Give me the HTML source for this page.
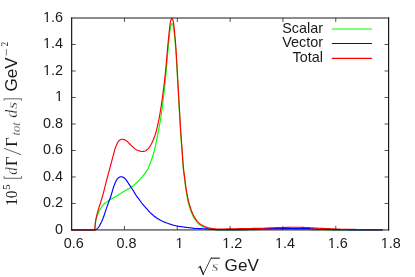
<!DOCTYPE html>
<html><head><meta charset="utf-8"><title>plot</title>
<style>
html,body{margin:0;padding:0;background:#fff;}
body{width:415px;height:277px;overflow:hidden;}
svg{display:block;opacity:0.999;will-change:transform;}
text{font-family:"Liberation Sans",sans-serif;fill:#1a1a1a;}
.m{font-family:"Liberation Serif",serif;}
.i{font-family:"Liberation Serif",serif;font-style:italic;}
</style></head><body>
<svg width="415" height="277" viewBox="0 0 415 277">
<rect x="0" y="0" width="415" height="277" fill="#ffffff"/>

<g fill="none" stroke-width="1.15" stroke-linejoin="round" stroke-linecap="butt">
<path d="M71.65,229.95 L94.80,230.00 L95.15,225.99 L95.50,222.64 L95.85,220.54 L96.20,219.03 L96.55,217.80 L96.90,216.76 L97.25,215.83 L97.60,214.90 L97.95,213.97 L98.30,213.08 L98.65,212.24 L99.00,211.45 L99.35,210.71 L99.70,210.02 L100.05,209.39 L100.40,208.80 L100.75,208.23 L101.10,207.69 L101.45,207.17 L101.80,206.68 L102.15,206.21 L102.50,205.76 L102.85,205.33 L103.20,204.93 L103.55,204.56 L103.90,204.20 L104.25,203.86 L104.60,203.54 L104.95,203.24 L105.30,202.95 L105.65,202.67 L106.00,202.40 L106.35,202.14 L106.70,201.88 L107.05,201.64 L107.40,201.40 L107.75,201.16 L108.10,200.93 L108.45,200.70 L108.80,200.47 L109.15,200.24 L109.50,200.01 L109.85,199.79 L110.20,199.58 L110.55,199.36 L110.90,199.16 L111.25,198.95 L111.60,198.75 L111.95,198.56 L112.30,198.36 L112.65,198.17 L113.00,197.97 L113.35,197.78 L113.70,197.59 L114.05,197.39 L114.40,197.20 L114.75,197.01 L115.10,196.81 L115.45,196.61 L115.80,196.41 L116.15,196.21 L116.50,196.00 L116.85,195.79 L117.20,195.58 L117.55,195.36 L117.90,195.15 L118.25,194.93 L118.60,194.72 L118.95,194.50 L119.30,194.28 L119.65,194.06 L120.00,193.84 L120.35,193.62 L120.70,193.40 L121.05,193.18 L121.40,192.96 L121.75,192.74 L122.10,192.52 L122.45,192.31 L122.80,192.09 L123.15,191.88 L123.50,191.66 L123.85,191.45 L124.20,191.24 L124.55,191.03 L124.90,190.83 L125.25,190.63 L125.60,190.44 L125.95,190.25 L126.30,190.05 L126.65,189.86 L127.00,189.67 L127.35,189.48 L127.70,189.29 L128.05,189.10 L128.40,188.91 L128.75,188.71 L129.10,188.51 L129.45,188.30 L129.80,188.10 L130.15,187.88 L130.50,187.66 L130.85,187.44 L131.20,187.21 L131.55,186.97 L131.90,186.72 L132.25,186.46 L132.60,186.19 L132.95,185.92 L133.30,185.63 L133.65,185.35 L134.00,185.05 L134.35,184.75 L134.70,184.44 L135.05,184.13 L135.40,183.82 L135.75,183.50 L136.10,183.18 L136.45,182.86 L136.80,182.54 L137.15,182.21 L137.50,181.88 L137.85,181.54 L138.20,181.20 L138.55,180.86 L138.90,180.51 L139.25,180.16 L139.60,179.80 L139.95,179.43 L140.30,179.06 L140.65,178.68 L141.00,178.30 L141.35,177.90 L141.70,177.50 L142.05,177.10 L142.40,176.68 L142.75,176.26 L143.10,175.84 L143.45,175.41 L143.80,174.98 L144.15,174.54 L144.50,174.09 L144.85,173.63 L145.20,173.16 L145.55,172.67 L145.90,172.16 L146.25,171.63 L146.60,171.08 L146.95,170.51 L147.30,169.91 L147.65,169.29 L148.00,168.62 L148.35,167.88 L148.70,167.08 L149.05,166.23 L149.40,165.34 L149.75,164.42 L150.10,163.48 L150.45,162.54 L150.80,161.60 L151.15,160.66 L151.50,159.71 L151.85,158.74 L152.20,157.75 L152.55,156.71 L152.90,155.64 L153.25,154.50 L153.60,153.31 L153.95,152.03 L154.30,150.68 L154.65,149.27 L155.00,147.81 L155.35,146.30 L155.70,144.75 L156.05,143.15 L156.40,141.47 L156.75,139.73 L157.10,137.93 L157.45,136.10 L157.80,134.25 L158.15,132.39 L158.50,130.55 L158.85,128.74 L159.20,126.93 L159.55,125.08 L159.90,123.17 L160.25,121.15 L160.60,119.00 L160.95,116.72 L161.30,114.36 L161.65,111.90 L162.00,109.35 L162.35,106.71 L162.70,103.98 L163.05,101.17 L163.40,98.27 L163.75,95.29 L164.10,92.23 L164.45,89.09 L164.80,85.87 L165.15,82.56 L165.50,78.97 L165.85,75.13 L166.20,71.11 L166.55,66.98 L166.90,62.80 L167.25,58.63 L167.60,54.55 L167.95,50.62 L168.30,46.86 L168.65,43.13 L169.00,39.52 L169.35,36.15 L169.70,32.99 L170.05,30.08 L170.40,27.83 L170.75,26.03 L171.10,24.89 L171.45,24.16 L171.80,23.68 L172.15,23.65 L172.50,24.07 L172.85,24.78 L173.20,25.80 L173.55,27.52 L173.90,29.85 L174.25,33.16 L174.60,36.70 L174.95,40.28 L175.30,44.11 L175.65,48.35 L176.00,53.19 L176.35,58.66 L176.70,64.58 L177.05,70.75 L177.40,77.00 L177.75,83.14 L178.10,89.20 L178.45,95.39 L178.80,101.64 L179.15,107.86 L179.50,113.95 L179.85,119.83 L180.20,125.60 L180.55,131.22 L180.90,136.49 L181.25,141.24 L181.60,145.62 L181.95,149.95 L182.30,154.56 L182.65,159.87 L183.00,165.29 L183.35,169.68 L183.70,172.94 L184.05,175.59 L184.40,178.22 L184.75,180.72 L185.10,183.48 L185.45,186.57 L185.80,189.03 L186.15,191.23 L186.50,193.27 L186.85,195.27 L187.20,197.24 L187.55,199.13 L187.90,200.88 L188.25,202.43 L188.60,203.75 L188.95,204.94 L189.30,206.09 L189.65,207.23 L190.00,208.34 L190.35,209.42 L190.70,210.46 L191.05,211.44 L191.40,212.36 L191.75,213.23 L192.10,214.05 L192.45,214.82 L192.80,215.54 L193.15,216.22 L193.50,216.87 L193.85,217.49 L194.20,218.09 L194.55,218.65 L194.90,219.20 L195.25,219.74 L195.60,220.26 L195.95,220.78 L196.30,221.27 L196.65,221.74 L197.00,222.18 L197.35,222.59 L197.70,222.98 L198.05,223.34 L198.40,223.68 L198.75,224.00 L199.10,224.31 L199.45,224.60 L199.80,224.88 L200.15,225.14 L200.50,225.38 L200.85,225.61 L201.20,225.83 L201.55,226.03 L201.90,226.23 L202.25,226.41 L202.60,226.59 L202.95,226.76 L203.30,226.93 L203.65,227.09 L204.00,227.24 L204.35,227.39 L204.70,227.53 L205.05,227.66 L205.40,227.78 L205.75,227.90 L206.10,228.00 L206.45,228.10 L206.80,228.19 L207.15,228.28 L207.50,228.36 L207.85,228.44 L208.20,228.53 L208.55,228.64 L208.90,228.74 L209.25,228.84 L209.60,228.93 L209.95,229.01 L210.30,229.09 L210.65,229.16 L211.00,229.23 L211.35,229.29 L211.70,229.35 L212.05,229.41 L212.40,229.47 L212.75,229.53 L213.10,229.59 L213.45,229.65 L213.80,229.70 L214.15,229.75 L214.50,229.80 L214.85,229.84 L215.20,229.87 L215.55,229.91 L215.90,229.94 L216.25,229.95 L216.60,229.95 L216.95,229.95 L217.30,229.95 L217.65,229.95 L218.00,229.95 L218.35,229.95 L218.70,229.95 L219.05,229.95 L219.40,229.95 L219.75,229.95 L220.10,229.95 L220.45,229.95 L220.80,229.95 L221.15,229.95 L221.50,229.95 L221.85,229.95 L222.20,229.95 L222.55,229.95 L222.90,229.95 L223.25,229.95 L223.60,229.95 L223.95,229.95 L224.30,229.95 L224.65,229.95 L225.00,229.95 L225.35,229.95 L225.70,229.95 L226.05,229.95 L226.40,229.95 L226.75,229.95 L227.10,229.95 L227.45,229.95 L227.80,229.95 L228.15,229.95 L228.50,229.95 L228.85,229.95 L229.20,229.95 L229.55,229.95 L229.90,229.95 L230.25,229.95 L230.60,229.95 L230.95,229.95 L231.30,229.95 L231.65,229.95 L232.00,229.95 L232.35,229.95 L232.70,229.95 L233.05,229.95 L233.40,229.95 L233.75,229.95 L234.10,229.94 L234.45,229.94 L234.80,229.94 L235.15,229.94 L235.50,229.93 L235.85,229.93 L236.20,229.93 L236.55,229.92 L236.90,229.92 L237.25,229.92 L237.60,229.91 L237.95,229.91 L238.30,229.90 L238.65,229.90 L239.00,229.89 L239.35,229.89 L239.70,229.88 L240.05,229.88 L240.40,229.87 L240.75,229.87 L241.10,229.86 L241.45,229.86 L241.80,229.85 L242.15,229.84 L242.50,229.84 L242.85,229.83 L243.20,229.83 L243.55,229.82 L243.90,229.82 L244.25,229.81 L244.60,229.81 L244.95,229.80 L245.30,229.80 L245.65,229.79 L246.00,229.78 L246.35,229.78 L246.70,229.77 L247.05,229.77 L247.40,229.76 L247.75,229.75 L248.10,229.75 L248.45,229.74 L248.80,229.73 L249.15,229.72 L249.50,229.72 L249.85,229.71 L250.20,229.70 L250.55,229.69 L250.90,229.69 L251.25,229.68 L251.60,229.67 L251.95,229.66 L252.30,229.66 L252.65,229.65 L253.00,229.64 L253.35,229.63 L253.70,229.63 L254.05,229.62 L254.40,229.61 L254.75,229.61 L255.10,229.60 L255.45,229.59 L255.80,229.58 L256.15,229.57 L256.50,229.56 L256.85,229.55 L257.20,229.55 L257.55,229.54 L257.90,229.53 L258.25,229.52 L258.60,229.51 L258.95,229.51 L259.30,229.50 L259.65,229.50 L260.00,229.50 L260.35,229.50 L260.70,229.50 L261.05,229.50 L261.40,229.50 L261.75,229.50 L262.10,229.50 L262.45,229.50 L262.80,229.50 L263.15,229.50 L263.50,229.50 L263.85,229.50 L264.20,229.50 L264.55,229.50 L264.90,229.50 L265.25,229.50 L265.60,229.50 L265.95,229.50 L266.30,229.50 L266.65,229.50 L267.00,229.50 L267.35,229.50 L267.70,229.50 L268.05,229.50 L268.40,229.50 L268.75,229.50 L269.10,229.50 L269.45,229.50 L269.80,229.50 L270.15,229.50 L270.50,229.50 L270.85,229.50 L271.20,229.50 L271.55,229.50 L271.90,229.50 L272.25,229.50 L272.60,229.50 L272.95,229.50 L273.30,229.50 L273.65,229.50 L274.00,229.50 L274.35,229.50 L274.70,229.50 L275.05,229.50 L275.40,229.50 L275.75,229.50 L276.10,229.50 L276.45,229.50 L276.80,229.50 L277.15,229.50 L277.50,229.50 L277.85,229.50 L278.20,229.50 L278.55,229.50 L278.90,229.50 L279.25,229.50 L279.60,229.50 L279.95,229.50 L280.30,229.50 L280.65,229.50 L281.00,229.50 L281.35,229.50 L281.70,229.50 L282.05,229.50 L282.40,229.50 L282.75,229.50 L283.10,229.50 L283.45,229.50 L283.80,229.50 L284.15,229.50 L284.50,229.50 L284.85,229.50 L285.20,229.50 L285.55,229.50 L285.90,229.50 L286.25,229.50 L286.60,229.50 L286.95,229.50 L287.30,229.50 L287.65,229.50 L288.00,229.50 L288.35,229.50 L288.70,229.50 L289.05,229.50 L289.40,229.50 L289.75,229.50 L290.10,229.50 L290.45,229.50 L290.80,229.50 L291.15,229.50 L291.50,229.50 L291.85,229.50 L292.20,229.50 L292.55,229.50 L292.90,229.50 L293.25,229.50 L293.60,229.50 L293.95,229.50 L294.30,229.50 L294.65,229.50 L295.00,229.50 L295.35,229.50 L295.70,229.50 L296.05,229.50 L296.40,229.50 L296.75,229.50 L297.10,229.50 L297.45,229.50 L297.80,229.50 L298.15,229.50 L298.50,229.50 L298.85,229.50 L299.20,229.50 L299.55,229.50 L299.90,229.50 L300.25,229.50 L300.60,229.50 L300.95,229.50 L301.30,229.50 L301.65,229.50 L302.00,229.50 L302.35,229.50 L302.70,229.50 L303.05,229.50 L303.40,229.50 L303.75,229.50 L304.10,229.50 L304.45,229.50 L304.80,229.50 L305.15,229.50 L305.50,229.50 L305.85,229.50 L306.20,229.50 L306.55,229.50 L306.90,229.50 L307.25,229.50 L307.60,229.50 L307.95,229.51 L308.30,229.51 L308.65,229.51 L309.00,229.52 L309.35,229.52 L309.70,229.52 L310.05,229.53 L310.40,229.53 L310.75,229.54 L311.10,229.54 L311.45,229.55 L311.80,229.55 L312.15,229.56 L312.50,229.56 L312.85,229.57 L313.20,229.57 L313.55,229.58 L313.90,229.59 L314.25,229.59 L314.60,229.60 L314.95,229.61 L315.30,229.61 L315.65,229.62 L316.00,229.63 L316.35,229.63 L316.70,229.64 L317.05,229.65 L317.40,229.65 L317.75,229.66 L318.10,229.67 L318.45,229.67 L318.80,229.68 L319.15,229.69 L319.50,229.69 L319.85,229.70 L320.20,229.70 L320.55,229.71 L320.90,229.72 L321.25,229.72 L321.60,229.73 L321.95,229.74 L322.30,229.74 L322.65,229.75 L323.00,229.76 L323.35,229.77 L323.70,229.78 L324.05,229.78 L324.40,229.79 L324.75,229.80 L325.10,229.81 L325.45,229.81 L325.80,229.82 L326.15,229.83 L326.50,229.84 L326.85,229.84 L327.20,229.85 L327.55,229.86 L327.90,229.87 L328.25,229.87 L328.60,229.88 L328.95,229.88 L329.30,229.89 L329.65,229.90 L330.00,229.90 L330.35,229.90 L330.70,229.91 L331.05,229.91 L331.40,229.92 L331.75,229.92 L332.10,229.93 L332.45,229.93 L332.80,229.94 L333.15,229.94 L333.50,229.95 L333.85,229.95 L334.20,229.96 L334.55,229.96 L334.90,229.97 L335.25,229.97 L335.60,229.97 L335.95,229.98 L336.30,229.98 L336.65,229.98 L337.00,229.99 L337.35,229.99 L337.70,229.99 L338.05,229.99 L338.40,230.00 L338.75,230.00 L339.10,230.00 L339.45,230.00 L339.80,230.00 L340.15,230.00 L340.50,230.00 L340.85,230.00 L341.20,230.00 L341.55,230.00 L341.90,230.00 L342.25,230.00 L342.60,230.00 L342.95,230.00 L343.30,230.00 L343.65,230.00 L344.00,230.00 L344.35,230.00 L344.70,230.00 L345.05,230.00 L345.40,230.00 L345.75,230.00 L346.10,230.00 L346.45,230.00 L346.80,230.00 L347.15,230.00 L347.50,230.00 L347.85,230.00 L348.20,230.00 L348.55,230.00 L348.90,230.00 L349.25,230.00 L349.60,230.00 L349.95,230.00 L350.30,230.00 L350.65,230.00 L351.00,230.00 L351.35,230.00 L351.70,230.00 L352.05,230.00 L352.40,230.00 L352.75,230.00 L353.10,230.00 L353.45,230.00 L353.80,230.00 L354.15,230.00 L354.50,230.00 L354.85,230.00 L355.20,230.00 L355.55,230.00 L355.90,230.00 L356.25,230.00 L356.60,230.00 L356.95,230.00 L357.30,230.00 L357.65,230.00 L358.00,230.00 L358.35,230.00 L358.70,230.00 L359.05,230.00 L359.40,230.00 L359.75,230.00 L360.10,230.00 L360.45,230.00 L360.80,230.00 L361.15,230.00 L361.50,230.00 L361.85,230.00 L362.20,230.00 L362.55,230.00 L362.90,230.00 L363.25,230.00 L363.60,230.00 L363.95,230.00 L364.30,230.00 L364.65,230.00 L365.00,230.00 L365.35,230.00 L365.70,230.00 L366.05,230.00 L366.40,230.00 L366.75,230.00 L367.10,230.00 L367.45,230.00 L367.80,230.00 L368.15,230.00 L368.50,230.00 L368.85,230.00 L369.20,230.00 L369.55,230.00 L369.90,230.00 L370.25,230.00 L370.60,230.00 L370.95,230.00 L371.30,230.00 L371.65,230.00 L372.00,230.00 L372.35,230.00 L372.70,230.00 L373.05,230.00 L373.40,230.00 L373.75,230.00 L374.10,230.00 L374.45,230.00 L374.80,230.00 L375.15,230.00 L375.50,230.00 L375.85,230.00 L376.20,230.00 L376.55,230.00 L376.90,230.00 L377.25,230.00 L377.60,230.00 L377.95,230.00 L378.30,230.00 L378.65,230.00 L379.00,230.00 L379.35,230.00 L379.70,230.00 L380.05,230.00 L380.40,230.00 L380.75,230.00 L381.10,230.00 L381.45,230.00 L381.80,230.00 L382.15,230.00 L382.50,230.00" stroke="#00ff00"/>
<path d="M71.65,229.95 L94.80,230.00 L95.15,229.92 L95.50,229.78 L95.85,229.61 L96.20,229.40 L96.55,229.15 L96.90,228.89 L97.25,228.60 L97.60,228.30 L97.95,227.96 L98.30,227.54 L98.65,227.06 L99.00,226.53 L99.35,225.95 L99.70,225.34 L100.05,224.70 L100.40,224.05 L100.75,223.38 L101.10,222.71 L101.45,222.00 L101.80,221.24 L102.15,220.43 L102.50,219.60 L102.85,218.73 L103.20,217.84 L103.55,216.93 L103.90,215.98 L104.25,214.97 L104.60,213.91 L104.95,212.82 L105.30,211.73 L105.65,210.64 L106.00,209.59 L106.35,208.58 L106.70,207.58 L107.05,206.60 L107.40,205.62 L107.75,204.65 L108.10,203.68 L108.45,202.72 L108.80,201.75 L109.15,200.81 L109.50,199.88 L109.85,198.94 L110.20,197.99 L110.55,197.02 L110.90,196.00 L111.25,194.91 L111.60,193.75 L111.95,192.53 L112.30,191.31 L112.65,190.09 L113.00,188.91 L113.35,187.81 L113.70,186.80 L114.05,185.85 L114.40,184.91 L114.75,184.00 L115.10,183.12 L115.45,182.29 L115.80,181.52 L116.15,180.82 L116.50,180.21 L116.85,179.68 L117.20,179.20 L117.55,178.75 L117.90,178.34 L118.25,177.99 L118.60,177.70 L118.95,177.47 L119.30,177.28 L119.65,177.09 L120.00,176.93 L120.35,176.80 L120.70,176.72 L121.05,176.70 L121.40,176.73 L121.75,176.79 L122.10,176.89 L122.45,177.01 L122.80,177.14 L123.15,177.28 L123.50,177.44 L123.85,177.65 L124.20,177.91 L124.55,178.20 L124.90,178.52 L125.25,178.85 L125.60,179.21 L125.95,179.61 L126.30,180.07 L126.65,180.56 L127.00,181.09 L127.35,181.64 L127.70,182.20 L128.05,182.76 L128.40,183.32 L128.75,183.87 L129.10,184.40 L129.45,184.91 L129.80,185.42 L130.15,185.93 L130.50,186.43 L130.85,186.94 L131.20,187.45 L131.55,187.96 L131.90,188.48 L132.25,189.00 L132.60,189.54 L132.95,190.08 L133.30,190.64 L133.65,191.22 L134.00,191.81 L134.35,192.40 L134.70,193.00 L135.05,193.60 L135.40,194.18 L135.75,194.75 L136.10,195.30 L136.45,195.82 L136.80,196.32 L137.15,196.81 L137.50,197.29 L137.85,197.76 L138.20,198.22 L138.55,198.67 L138.90,199.13 L139.25,199.59 L139.60,200.06 L139.95,200.53 L140.30,201.02 L140.65,201.52 L141.00,202.02 L141.35,202.52 L141.70,203.01 L142.05,203.46 L142.40,203.90 L142.75,204.32 L143.10,204.73 L143.45,205.13 L143.80,205.53 L144.15,205.93 L144.50,206.33 L144.85,206.73 L145.20,207.13 L145.55,207.52 L145.90,207.92 L146.25,208.31 L146.60,208.70 L146.95,209.09 L147.30,209.47 L147.65,209.85 L148.00,210.24 L148.35,210.63 L148.70,211.02 L149.05,211.40 L149.40,211.78 L149.75,212.16 L150.10,212.51 L150.45,212.86 L150.80,213.19 L151.15,213.51 L151.50,213.83 L151.85,214.14 L152.20,214.45 L152.55,214.76 L152.90,215.06 L153.25,215.36 L153.60,215.65 L153.95,215.94 L154.30,216.21 L154.65,216.49 L155.00,216.76 L155.35,217.02 L155.70,217.27 L156.05,217.52 L156.40,217.77 L156.75,218.00 L157.10,218.23 L157.45,218.45 L157.80,218.67 L158.15,218.89 L158.50,219.10 L158.85,219.31 L159.20,219.51 L159.55,219.71 L159.90,219.90 L160.25,220.09 L160.60,220.28 L160.95,220.47 L161.30,220.64 L161.65,220.82 L162.00,220.99 L162.35,221.16 L162.70,221.33 L163.05,221.49 L163.40,221.64 L163.75,221.80 L164.10,221.95 L164.45,222.10 L164.80,222.25 L165.15,222.39 L165.50,222.53 L165.85,222.67 L166.20,222.81 L166.55,222.94 L166.90,223.07 L167.25,223.20 L167.60,223.33 L167.95,223.45 L168.30,223.57 L168.65,223.69 L169.00,223.81 L169.35,223.92 L169.70,224.03 L170.05,224.14 L170.40,224.25 L170.75,224.36 L171.10,224.47 L171.45,224.58 L171.80,224.68 L172.15,224.79 L172.50,224.89 L172.85,225.00 L173.20,225.10 L173.55,225.19 L173.90,225.29 L174.25,225.38 L174.60,225.47 L174.95,225.56 L175.30,225.65 L175.65,225.73 L176.00,225.81 L176.35,225.89 L176.70,225.96 L177.05,226.03 L177.40,226.10 L177.75,226.16 L178.10,226.22 L178.45,226.28 L178.80,226.34 L179.15,226.40 L179.50,226.45 L179.85,226.50 L180.20,226.55 L180.55,226.60 L180.90,226.65 L181.25,226.70 L181.60,226.74 L181.95,226.79 L182.30,226.84 L182.65,226.88 L183.00,226.92 L183.35,226.97 L183.70,227.01 L184.05,227.05 L184.40,227.10 L184.75,227.14 L185.10,227.18 L185.45,227.23 L185.80,227.27 L186.15,227.32 L186.50,227.36 L186.85,227.41 L187.20,227.45 L187.55,227.50 L187.90,227.54 L188.25,227.58 L188.60,227.63 L188.95,227.67 L189.30,227.71 L189.65,227.76 L190.00,227.80 L190.35,227.84 L190.70,227.89 L191.05,227.94 L191.40,227.99 L191.75,228.04 L192.10,228.09 L192.45,228.15 L192.80,228.19 L193.15,228.24 L193.50,228.29 L193.85,228.33 L194.20,228.37 L194.55,228.40 L194.90,228.43 L195.25,228.45 L195.60,228.46 L195.95,228.48 L196.30,228.49 L196.65,228.50 L197.00,228.51 L197.35,228.52 L197.70,228.53 L198.05,228.54 L198.40,228.55 L198.75,228.56 L199.10,228.57 L199.45,228.58 L199.80,228.59 L200.15,228.61 L200.50,228.62 L200.85,228.63 L201.20,228.65 L201.55,228.66 L201.90,228.67 L202.25,228.69 L202.60,228.70 L202.95,228.72 L203.30,228.74 L203.65,228.75 L204.00,228.77 L204.35,228.79 L204.70,228.80 L205.05,228.82 L205.40,228.84 L205.75,228.86 L206.10,228.88 L206.45,228.90 L206.80,228.92 L207.15,228.94 L207.50,228.96 L207.85,228.99 L208.20,229.01 L208.55,229.04 L208.90,229.06 L209.25,229.09 L209.60,229.12 L209.95,229.15 L210.30,229.18 L210.65,229.21 L211.00,229.25 L211.35,229.29 L211.70,229.34 L212.05,229.37 L212.40,229.41 L212.75,229.44 L213.10,229.45 L213.45,229.47 L213.80,229.49 L214.15,229.50 L214.50,229.52 L214.85,229.53 L215.20,229.54 L215.55,229.56 L215.90,229.57 L216.25,229.58 L216.60,229.58 L216.95,229.59 L217.30,229.60 L217.65,229.60 L218.00,229.60 L218.35,229.60 L218.70,229.60 L219.05,229.60 L219.40,229.60 L219.75,229.60 L220.10,229.60 L220.45,229.60 L220.80,229.60 L221.15,229.60 L221.50,229.60 L221.85,229.60 L222.20,229.60 L222.55,229.60 L222.90,229.60 L223.25,229.60 L223.60,229.60 L223.95,229.60 L224.30,229.60 L224.65,229.60 L225.00,229.60 L225.35,229.60 L225.70,229.60 L226.05,229.60 L226.40,229.60 L226.75,229.60 L227.10,229.60 L227.45,229.60 L227.80,229.60 L228.15,229.60 L228.50,229.60 L228.85,229.60 L229.20,229.60 L229.55,229.60 L229.90,229.60 L230.25,229.60 L230.60,229.60 L230.95,229.60 L231.30,229.60 L231.65,229.60 L232.00,229.60 L232.35,229.60 L232.70,229.60 L233.05,229.60 L233.40,229.60 L233.75,229.60 L234.10,229.60 L234.45,229.60 L234.80,229.60 L235.15,229.60 L235.50,229.60 L235.85,229.60 L236.20,229.60 L236.55,229.60 L236.90,229.60 L237.25,229.60 L237.60,229.60 L237.95,229.60 L238.30,229.60 L238.65,229.60 L239.00,229.60 L239.35,229.60 L239.70,229.60 L240.05,229.60 L240.40,229.60 L240.75,229.60 L241.10,229.60 L241.45,229.60 L241.80,229.60 L242.15,229.60 L242.50,229.60 L242.85,229.60 L243.20,229.60 L243.55,229.60 L243.90,229.60 L244.25,229.60 L244.60,229.60 L244.95,229.60 L245.30,229.60 L245.65,229.60 L246.00,229.59 L246.35,229.59 L246.70,229.58 L247.05,229.58 L247.40,229.57 L247.75,229.56 L248.10,229.55 L248.45,229.54 L248.80,229.53 L249.15,229.51 L249.50,229.50 L249.85,229.49 L250.20,229.47 L250.55,229.46 L250.90,229.44 L251.25,229.43 L251.60,229.42 L251.95,229.40 L252.30,229.39 L252.65,229.37 L253.00,229.35 L253.35,229.33 L253.70,229.31 L254.05,229.28 L254.40,229.26 L254.75,229.23 L255.10,229.20 L255.45,229.18 L255.80,229.15 L256.15,229.13 L256.50,229.10 L256.85,229.07 L257.20,229.05 L257.55,229.03 L257.90,229.01 L258.25,228.99 L258.60,228.97 L258.95,228.94 L259.30,228.92 L259.65,228.90 L260.00,228.88 L260.35,228.86 L260.70,228.84 L261.05,228.83 L261.40,228.81 L261.75,228.79 L262.10,228.77 L262.45,228.76 L262.80,228.74 L263.15,228.73 L263.50,228.72 L263.85,228.70 L264.20,228.69 L264.55,228.69 L264.90,228.68 L265.25,228.67 L265.60,228.66 L265.95,228.65 L266.30,228.64 L266.65,228.64 L267.00,228.63 L267.35,228.62 L267.70,228.62 L268.05,228.61 L268.40,228.60 L268.75,228.60 L269.10,228.59 L269.45,228.59 L269.80,228.58 L270.15,228.57 L270.50,228.57 L270.85,228.56 L271.20,228.56 L271.55,228.56 L271.90,228.55 L272.25,228.55 L272.60,228.54 L272.95,228.54 L273.30,228.53 L273.65,228.53 L274.00,228.53 L274.35,228.52 L274.70,228.52 L275.05,228.52 L275.40,228.51 L275.75,228.51 L276.10,228.51 L276.45,228.51 L276.80,228.50 L277.15,228.50 L277.50,228.50 L277.85,228.49 L278.20,228.49 L278.55,228.49 L278.90,228.49 L279.25,228.48 L279.60,228.48 L279.95,228.48 L280.30,228.47 L280.65,228.47 L281.00,228.47 L281.35,228.47 L281.70,228.46 L282.05,228.46 L282.40,228.46 L282.75,228.45 L283.10,228.45 L283.45,228.45 L283.80,228.44 L284.15,228.44 L284.50,228.43 L284.85,228.43 L285.20,228.42 L285.55,228.42 L285.90,228.41 L286.25,228.41 L286.60,228.40 L286.95,228.40 L287.30,228.39 L287.65,228.39 L288.00,228.38 L288.35,228.38 L288.70,228.37 L289.05,228.37 L289.40,228.36 L289.75,228.35 L290.10,228.35 L290.45,228.34 L290.80,228.34 L291.15,228.34 L291.50,228.33 L291.85,228.33 L292.20,228.32 L292.55,228.32 L292.90,228.32 L293.25,228.31 L293.60,228.31 L293.95,228.31 L294.30,228.31 L294.65,228.30 L295.00,228.30 L295.35,228.30 L295.70,228.30 L296.05,228.30 L296.40,228.30 L296.75,228.30 L297.10,228.30 L297.45,228.31 L297.80,228.31 L298.15,228.31 L298.50,228.32 L298.85,228.32 L299.20,228.33 L299.55,228.34 L299.90,228.34 L300.25,228.35 L300.60,228.36 L300.95,228.36 L301.30,228.37 L301.65,228.38 L302.00,228.39 L302.35,228.40 L302.70,228.41 L303.05,228.42 L303.40,228.43 L303.75,228.44 L304.10,228.45 L304.45,228.46 L304.80,228.47 L305.15,228.48 L305.50,228.49 L305.85,228.50 L306.20,228.51 L306.55,228.52 L306.90,228.53 L307.25,228.54 L307.60,228.55 L307.95,228.57 L308.30,228.58 L308.65,228.60 L309.00,228.62 L309.35,228.63 L309.70,228.65 L310.05,228.67 L310.40,228.69 L310.75,228.71 L311.10,228.72 L311.45,228.74 L311.80,228.76 L312.15,228.78 L312.50,228.80 L312.85,228.83 L313.20,228.85 L313.55,228.87 L313.90,228.89 L314.25,228.91 L314.60,228.93 L314.95,228.95 L315.30,228.97 L315.65,228.99 L316.00,229.01 L316.35,229.03 L316.70,229.05 L317.05,229.07 L317.40,229.08 L317.75,229.10 L318.10,229.12 L318.45,229.14 L318.80,229.15 L319.15,229.17 L319.50,229.18 L319.85,229.19 L320.20,229.21 L320.55,229.22 L320.90,229.23 L321.25,229.25 L321.60,229.26 L321.95,229.27 L322.30,229.28 L322.65,229.29 L323.00,229.30 L323.35,229.32 L323.70,229.33 L324.05,229.34 L324.40,229.35 L324.75,229.36 L325.10,229.37 L325.45,229.38 L325.80,229.39 L326.15,229.40 L326.50,229.41 L326.85,229.42 L327.20,229.43 L327.55,229.44 L327.90,229.45 L328.25,229.46 L328.60,229.47 L328.95,229.47 L329.30,229.48 L329.65,229.49 L330.00,229.50 L330.35,229.51 L330.70,229.52 L331.05,229.52 L331.40,229.53 L331.75,229.54 L332.10,229.55 L332.45,229.56 L332.80,229.57 L333.15,229.57 L333.50,229.58 L333.85,229.59 L334.20,229.60 L334.55,229.60 L334.90,229.61 L335.25,229.62 L335.60,229.62 L335.95,229.63 L336.30,229.64 L336.65,229.65 L337.00,229.65 L337.35,229.66 L337.70,229.66 L338.05,229.67 L338.40,229.68 L338.75,229.68 L339.10,229.69 L339.45,229.69 L339.80,229.70 L340.15,229.70 L340.50,229.71 L340.85,229.71 L341.20,229.72 L341.55,229.72 L341.90,229.73 L342.25,229.73 L342.60,229.73 L342.95,229.74 L343.30,229.74 L343.65,229.75 L344.00,229.75 L344.35,229.76 L344.70,229.76 L345.05,229.76 L345.40,229.77 L345.75,229.77 L346.10,229.78 L346.45,229.78 L346.80,229.79 L347.15,229.79 L347.50,229.79 L347.85,229.80 L348.20,229.80 L348.55,229.80 L348.90,229.81 L349.25,229.81 L349.60,229.82 L349.95,229.82 L350.30,229.82 L350.65,229.83 L351.00,229.83 L351.35,229.83 L351.70,229.84 L352.05,229.84 L352.40,229.84 L352.75,229.85 L353.10,229.85 L353.45,229.85 L353.80,229.85 L354.15,229.86 L354.50,229.86 L354.85,229.86 L355.20,229.87 L355.55,229.87 L355.90,229.87 L356.25,229.87 L356.60,229.88 L356.95,229.88 L357.30,229.88 L357.65,229.88 L358.00,229.89 L358.35,229.89 L358.70,229.89 L359.05,229.89 L359.40,229.90 L359.75,229.90 L360.10,229.90 L360.45,229.90 L360.80,229.90 L361.15,229.91 L361.50,229.91 L361.85,229.91 L362.20,229.91 L362.55,229.92 L362.90,229.92 L363.25,229.92 L363.60,229.92 L363.95,229.92 L364.30,229.93 L364.65,229.93 L365.00,229.93 L365.35,229.93 L365.70,229.93 L366.05,229.94 L366.40,229.94 L366.75,229.94 L367.10,229.94 L367.45,229.94 L367.80,229.95 L368.15,229.95 L368.50,229.95 L368.85,229.95 L369.20,229.95 L369.55,229.95 L369.90,229.96 L370.25,229.96 L370.60,229.96 L370.95,229.96 L371.30,229.96 L371.65,229.97 L372.00,229.97 L372.35,229.97 L372.70,229.97 L373.05,229.97 L373.40,229.97 L373.75,229.97 L374.10,229.98 L374.45,229.98 L374.80,229.98 L375.15,229.98 L375.50,229.98 L375.85,229.98 L376.20,229.98 L376.55,229.99 L376.90,229.99 L377.25,229.99 L377.60,229.99 L377.95,229.99 L378.30,229.99 L378.65,229.99 L379.00,229.99 L379.35,229.99 L379.70,229.99 L380.05,230.00 L380.40,230.00 L380.75,230.00 L381.10,230.00 L381.45,230.00 L381.80,230.00 L382.15,230.00 L382.50,230.00" stroke="#0000ff"/>
<path d="M71.65,229.95 L94.80,229.95 L95.15,224.68 L95.50,221.60 L95.85,219.47 L96.20,217.79 L96.55,216.33 L96.90,214.90 L97.25,213.46 L97.60,212.12 L97.95,210.86 L98.30,209.66 L98.65,208.49 L99.00,207.36 L99.35,206.29 L99.70,205.26 L100.05,204.25 L100.40,203.22 L100.75,202.14 L101.10,201.03 L101.45,199.90 L101.80,198.75 L102.15,197.57 L102.50,196.35 L102.85,195.10 L103.20,193.80 L103.55,192.46 L103.90,191.10 L104.25,189.71 L104.60,188.30 L104.95,186.88 L105.30,185.46 L105.65,184.04 L106.00,182.63 L106.35,181.23 L106.70,179.86 L107.05,178.51 L107.40,177.19 L107.75,175.87 L108.10,174.57 L108.45,173.28 L108.80,171.99 L109.15,170.71 L109.50,169.42 L109.85,168.14 L110.20,166.85 L110.55,165.56 L110.90,164.25 L111.25,162.94 L111.60,161.62 L111.95,160.30 L112.30,158.98 L112.65,157.68 L113.00,156.39 L113.35,155.12 L113.70,153.82 L114.05,152.48 L114.40,151.15 L114.75,149.85 L115.10,148.64 L115.45,147.54 L115.80,146.60 L116.15,145.76 L116.50,144.96 L116.85,144.20 L117.20,143.49 L117.55,142.83 L117.90,142.23 L118.25,141.70 L118.60,141.23 L118.95,140.85 L119.30,140.50 L119.65,140.18 L120.00,139.91 L120.35,139.68 L120.70,139.53 L121.05,139.44 L121.40,139.36 L121.75,139.29 L122.10,139.24 L122.45,139.21 L122.80,139.20 L123.15,139.25 L123.50,139.34 L123.85,139.47 L124.20,139.63 L124.55,139.79 L124.90,139.95 L125.25,140.12 L125.60,140.33 L125.95,140.56 L126.30,140.80 L126.65,141.06 L127.00,141.32 L127.35,141.60 L127.70,141.90 L128.05,142.22 L128.40,142.55 L128.75,142.91 L129.10,143.27 L129.45,143.63 L129.80,144.00 L130.15,144.37 L130.50,144.73 L130.85,145.09 L131.20,145.43 L131.55,145.76 L131.90,146.07 L132.25,146.39 L132.60,146.72 L132.95,147.05 L133.30,147.38 L133.65,147.70 L134.00,148.02 L134.35,148.33 L134.70,148.62 L135.05,148.90 L135.40,149.17 L135.75,149.41 L136.10,149.63 L136.45,149.83 L136.80,149.99 L137.15,150.15 L137.50,150.30 L137.85,150.44 L138.20,150.56 L138.55,150.68 L138.90,150.79 L139.25,150.90 L139.60,151.00 L139.95,151.09 L140.30,151.18 L140.65,151.27 L141.00,151.36 L141.35,151.44 L141.70,151.49 L142.05,151.50 L142.40,151.49 L142.75,151.47 L143.10,151.43 L143.45,151.38 L143.80,151.33 L144.15,151.27 L144.50,151.20 L144.85,151.11 L145.20,150.96 L145.55,150.78 L145.90,150.57 L146.25,150.33 L146.60,150.07 L146.95,149.80 L147.30,149.52 L147.65,149.21 L148.00,148.85 L148.35,148.46 L148.70,148.04 L149.05,147.58 L149.40,147.11 L149.75,146.62 L150.10,146.10 L150.45,145.55 L150.80,144.95 L151.15,144.32 L151.50,143.65 L151.85,142.94 L152.20,142.21 L152.55,141.46 L152.90,140.67 L153.25,139.86 L153.60,139.01 L153.95,138.13 L154.30,137.22 L154.65,136.28 L155.00,135.30 L155.35,134.24 L155.70,133.13 L156.05,131.94 L156.40,130.69 L156.75,129.35 L157.10,127.91 L157.45,126.38 L157.80,124.77 L158.15,123.09 L158.50,121.36 L158.85,119.59 L159.20,117.79 L159.55,115.94 L159.90,114.02 L160.25,112.02 L160.60,109.91 L160.95,107.69 L161.30,105.38 L161.65,103.00 L162.00,100.54 L162.35,98.07 L162.70,95.50 L163.05,92.85 L163.40,90.11 L163.75,87.29 L164.10,84.38 L164.45,81.39 L164.80,78.32 L165.15,75.15 L165.50,71.70 L165.85,68.00 L166.20,64.12 L166.55,60.12 L166.90,56.07 L167.25,52.03 L167.60,48.08 L167.95,44.27 L168.30,40.63 L168.65,37.02 L169.00,33.52 L169.35,30.27 L169.70,27.23 L170.05,24.42 L170.40,22.28 L170.75,20.59 L171.10,19.56 L171.45,18.94 L171.80,18.57 L172.15,18.64 L172.50,19.17 L172.85,19.97 L173.20,21.09 L173.55,22.91 L173.90,25.34 L174.25,28.74 L174.60,32.37 L174.95,36.04 L175.30,39.96 L175.65,44.28 L176.00,49.21 L176.35,54.75 L176.70,60.74 L177.05,66.99 L177.40,73.30 L177.75,79.51 L178.10,85.62 L178.45,91.88 L178.80,98.18 L179.15,104.46 L179.50,110.60 L179.85,116.53 L180.20,122.35 L180.55,128.02 L180.90,133.34 L181.25,138.37 L181.60,143.05 L181.95,147.58 L182.30,152.32 L182.65,157.76 L183.00,163.05 L183.35,167.08 L183.70,170.18 L184.05,172.84 L184.40,175.52 L184.75,178.06 L185.10,180.87 L185.45,184.00 L185.80,186.50 L186.15,188.75 L186.50,190.83 L186.85,192.88 L187.20,194.89 L187.55,196.83 L187.90,198.63 L188.25,200.21 L188.60,201.58 L188.95,202.81 L189.30,204.00 L189.65,205.18 L190.00,206.34 L190.35,207.47 L190.70,208.55 L191.05,209.58 L191.40,210.55 L191.75,211.47 L192.10,212.35 L192.45,213.17 L192.80,213.93 L193.15,214.66 L193.50,215.35 L193.85,216.02 L194.20,216.65 L194.55,217.25 L194.90,217.83 L195.25,218.38 L195.60,218.93 L195.95,219.45 L196.30,219.96 L196.65,220.44 L197.00,220.89 L197.35,221.32 L197.70,221.71 L198.05,222.08 L198.40,222.43 L198.75,222.76 L199.10,223.08 L199.45,223.38 L199.80,223.67 L200.15,223.94 L200.50,224.20 L200.85,224.44 L201.20,224.68 L201.55,224.89 L201.90,225.10 L202.25,225.30 L202.60,225.49 L202.95,225.68 L203.30,225.86 L203.65,226.04 L204.00,226.21 L204.35,226.37 L204.70,226.53 L205.05,226.68 L205.40,226.82 L205.75,226.96 L206.10,227.08 L206.45,227.20 L206.80,227.31 L207.15,227.42 L207.50,227.53 L207.85,227.63 L208.20,227.72 L208.55,227.81 L208.90,227.90 L209.25,227.98 L209.60,228.06 L209.95,228.14 L210.30,228.21 L210.65,228.28 L211.00,228.35 L211.35,228.41 L211.70,228.47 L212.05,228.53 L212.40,228.58 L212.75,228.64 L213.10,228.69 L213.45,228.74 L213.80,228.79 L214.15,228.83 L214.50,228.86 L214.85,228.89 L215.20,228.91 L215.55,228.93 L215.90,228.96 L216.25,228.98 L216.60,229.00 L216.95,229.01 L217.30,229.03 L217.65,229.05 L218.00,229.06 L218.35,229.07 L218.70,229.08 L219.05,229.09 L219.40,229.10 L219.75,229.10 L220.10,229.10 L220.45,229.10 L220.80,229.10 L221.15,229.09 L221.50,229.09 L221.85,229.08 L222.20,229.07 L222.55,229.06 L222.90,229.05 L223.25,229.04 L223.60,229.03 L223.95,229.01 L224.30,229.00 L224.65,228.99 L225.00,228.97 L225.35,228.96 L225.70,228.95 L226.05,228.93 L226.40,228.92 L226.75,228.90 L227.10,228.89 L227.45,228.88 L227.80,228.86 L228.15,228.85 L228.50,228.84 L228.85,228.83 L229.20,228.82 L229.55,228.81 L229.90,228.80 L230.25,228.80 L230.60,228.79 L230.95,228.78 L231.30,228.78 L231.65,228.77 L232.00,228.77 L232.35,228.76 L232.70,228.75 L233.05,228.75 L233.40,228.74 L233.75,228.74 L234.10,228.74 L234.45,228.73 L234.80,228.73 L235.15,228.72 L235.50,228.72 L235.85,228.71 L236.20,228.71 L236.55,228.71 L236.90,228.70 L237.25,228.70 L237.60,228.69 L237.95,228.69 L238.30,228.69 L238.65,228.68 L239.00,228.68 L239.35,228.67 L239.70,228.67 L240.05,228.67 L240.40,228.66 L240.75,228.66 L241.10,228.65 L241.45,228.65 L241.80,228.65 L242.15,228.64 L242.50,228.64 L242.85,228.63 L243.20,228.63 L243.55,228.62 L243.90,228.62 L244.25,228.61 L244.60,228.61 L244.95,228.60 L245.30,228.60 L245.65,228.59 L246.00,228.58 L246.35,228.58 L246.70,228.57 L247.05,228.56 L247.40,228.56 L247.75,228.55 L248.10,228.54 L248.45,228.53 L248.80,228.53 L249.15,228.52 L249.50,228.51 L249.85,228.50 L250.20,228.50 L250.55,228.49 L250.90,228.48 L251.25,228.47 L251.60,228.47 L251.95,228.46 L252.30,228.45 L252.65,228.44 L253.00,228.44 L253.35,228.43 L253.70,228.42 L254.05,228.42 L254.40,228.41 L254.75,228.40 L255.10,228.40 L255.45,228.39 L255.80,228.39 L256.15,228.38 L256.50,228.38 L256.85,228.37 L257.20,228.37 L257.55,228.37 L257.90,228.36 L258.25,228.36 L258.60,228.35 L258.95,228.35 L259.30,228.35 L259.65,228.34 L260.00,228.34 L260.35,228.33 L260.70,228.33 L261.05,228.32 L261.40,228.31 L261.75,228.31 L262.10,228.30 L262.45,228.29 L262.80,228.28 L263.15,228.26 L263.50,228.25 L263.85,228.23 L264.20,228.21 L264.55,228.19 L264.90,228.17 L265.25,228.15 L265.60,228.13 L265.95,228.11 L266.30,228.09 L266.65,228.07 L267.00,228.05 L267.35,228.03 L267.70,228.01 L268.05,228.00 L268.40,227.98 L268.75,227.97 L269.10,227.95 L269.45,227.93 L269.80,227.92 L270.15,227.90 L270.50,227.88 L270.85,227.87 L271.20,227.85 L271.55,227.84 L271.90,227.82 L272.25,227.80 L272.60,227.79 L272.95,227.78 L273.30,227.76 L273.65,227.75 L274.00,227.73 L274.35,227.72 L274.70,227.71 L275.05,227.70 L275.40,227.69 L275.75,227.68 L276.10,227.67 L276.45,227.66 L276.80,227.65 L277.15,227.64 L277.50,227.63 L277.85,227.62 L278.20,227.61 L278.55,227.60 L278.90,227.59 L279.25,227.59 L279.60,227.58 L279.95,227.57 L280.30,227.56 L280.65,227.55 L281.00,227.55 L281.35,227.54 L281.70,227.53 L282.05,227.52 L282.40,227.51 L282.75,227.51 L283.10,227.50 L283.45,227.49 L283.80,227.48 L284.15,227.47 L284.50,227.46 L284.85,227.45 L285.20,227.44 L285.55,227.43 L285.90,227.42 L286.25,227.41 L286.60,227.40 L286.95,227.39 L287.30,227.38 L287.65,227.37 L288.00,227.36 L288.35,227.34 L288.70,227.33 L289.05,227.32 L289.40,227.31 L289.75,227.30 L290.10,227.29 L290.45,227.28 L290.80,227.28 L291.15,227.27 L291.50,227.26 L291.85,227.25 L292.20,227.24 L292.55,227.24 L292.90,227.23 L293.25,227.22 L293.60,227.22 L293.95,227.21 L294.30,227.21 L294.65,227.21 L295.00,227.20 L295.35,227.20 L295.70,227.20 L296.05,227.20 L296.40,227.20 L296.75,227.20 L297.10,227.21 L297.45,227.21 L297.80,227.22 L298.15,227.22 L298.50,227.23 L298.85,227.24 L299.20,227.25 L299.55,227.26 L299.90,227.27 L300.25,227.28 L300.60,227.29 L300.95,227.30 L301.30,227.31 L301.65,227.33 L302.00,227.34 L302.35,227.35 L302.70,227.37 L303.05,227.38 L303.40,227.39 L303.75,227.41 L304.10,227.42 L304.45,227.44 L304.80,227.45 L305.15,227.47 L305.50,227.48 L305.85,227.49 L306.20,227.51 L306.55,227.52 L306.90,227.54 L307.25,227.55 L307.60,227.57 L307.95,227.59 L308.30,227.61 L308.65,227.62 L309.00,227.64 L309.35,227.66 L309.70,227.68 L310.05,227.70 L310.40,227.72 L310.75,227.74 L311.10,227.77 L311.45,227.79 L311.80,227.81 L312.15,227.83 L312.50,227.85 L312.85,227.88 L313.20,227.90 L313.55,227.92 L313.90,227.94 L314.25,227.97 L314.60,227.99 L314.95,228.01 L315.30,228.03 L315.65,228.06 L316.00,228.08 L316.35,228.10 L316.70,228.12 L317.05,228.14 L317.40,228.16 L317.75,228.18 L318.10,228.20 L318.45,228.22 L318.80,228.24 L319.15,228.26 L319.50,228.28 L319.85,228.29 L320.20,228.31 L320.55,228.33 L320.90,228.34 L321.25,228.36 L321.60,228.37 L321.95,228.38 L322.30,228.40 L322.65,228.41 L323.00,228.43 L323.35,228.44 L323.70,228.45 L324.05,228.47 L324.40,228.48 L324.75,228.49 L325.10,228.51 L325.45,228.52 L325.80,228.53 L326.15,228.55 L326.50,228.56 L326.85,228.57 L327.20,228.59 L327.55,228.60 L327.90,228.61 L328.25,228.63 L328.60,228.64 L328.95,228.65 L329.30,228.67 L329.65,228.68 L330.00,228.70 L330.35,228.72 L330.70,228.73 L331.05,228.75 L331.40,228.77 L331.75,228.79 L332.10,228.81 L332.45,228.83 L332.80,228.85 L333.15,228.87 L333.50,228.89 L333.85,228.91 L334.20,228.93 L334.55,228.95 L334.90,228.97 L335.25,228.99 L335.60,229.01 L335.95,229.03 L336.30,229.05 L336.65,229.07 L337.00,229.08 L337.35,229.10 L337.70,229.12 L338.05,229.13 L338.40,229.15 L338.75,229.16 L339.10,229.17 L339.45,229.18 L339.80,229.19 L340.15,229.20 L340.50,229.21 L340.85,229.22 L341.20,229.23 L341.55,229.24 L341.90,229.24 L342.25,229.25 L342.60,229.26 L342.95,229.27 L343.30,229.27 L343.65,229.28 L344.00,229.28 L344.35,229.29 L344.70,229.30 L345.05,229.30 L345.40,229.31 L345.75,229.32 L346.10,229.32 L346.45,229.33 L346.80,229.33 L347.15,229.34 L347.50,229.34 L347.85,229.35 L348.20,229.35 L348.55,229.36 L348.90,229.36 L349.25,229.37 L349.60,229.37 L349.95,229.38 L350.30,229.38 L350.65,229.38 L351.00,229.39 L351.35,229.39 L351.70,229.40 L352.05,229.40 L352.40,229.41 L352.75,229.41 L353.10,229.41 L353.45,229.42 L353.80,229.42 L354.15,229.43 L354.50,229.43 L354.85,229.43 L355.20,229.44 L355.55,229.44 L355.90,229.45 L356.25,229.45 L356.60,229.46 L356.95,229.46 L357.30,229.46 L357.65,229.47 L358.00,229.47 L358.35,229.48 L358.70,229.48 L359.05,229.49 L359.40,229.49 L359.75,229.50 L360.10,229.50 L360.45,229.51 L360.80,229.51 L361.15,229.52 L361.50,229.52 L361.85,229.53 L362.20,229.53 L362.55,229.54 L362.90,229.54 L363.25,229.55 L363.60,229.55 L363.95,229.56 L364.30,229.56 L364.65,229.57 L365.00,229.57 L365.35,229.57 L365.70,229.58 L366.05,229.58 L366.40,229.59 L366.75,229.59 L367.10,229.60 L367.45,229.60 L367.80,229.61 L368.15,229.61 L368.50,229.62 L368.85,229.62 L369.20,229.63 L369.55,229.63 L369.90,229.64 L370.25,229.64 L370.60,229.65 L370.95,229.65 L371.30,229.66 L371.65,229.66 L372.00,229.66 L372.35,229.67 L372.70,229.67 L373.05,229.68 L373.40,229.68 L373.75,229.69 L374.10,229.69 L374.45,229.70 L374.80,229.70 L375.15,229.71 L375.50,229.71 L375.85,229.72 L376.20,229.72 L376.55,229.72 L376.90,229.73 L377.25,229.73 L377.60,229.74 L377.95,229.74 L378.30,229.75 L378.65,229.75 L379.00,229.76 L379.35,229.76 L379.70,229.76 L380.05,229.77 L380.40,229.77 L380.75,229.78 L381.10,229.78 L381.45,229.79 L381.80,229.79 L382.15,229.80 L382.50,229.80" stroke="#ff0000"/>
<path d="M331.8,29.0 L371.9,29.0" stroke="#00ff00"/>
<path d="M331.8,43.5 L371.9,43.5" stroke="#0000ff"/>
<path d="M331.8,58.35 L371.9,58.35" stroke="#ff0000"/>
</g>
<g fill="none" stroke="#1a1a1a">
<path d="M71.65,17.5 L71.65,230.45 M388.6,17.5 L388.6,230.45" stroke-width="1.2"/>
<path d="M71.05000000000001,18.0 L389.20000000000005,18.0 M71.05000000000001,229.95 L389.20000000000005,229.95" stroke-width="1.0"/>
<path d="M124.48,229.95 L124.48,225.95 M124.48,18.0 L124.48,22.0 M177.30,229.95 L177.30,225.95 M177.30,18.0 L177.30,22.0 M230.13,229.95 L230.13,225.95 M230.13,18.0 L230.13,22.0 M282.95,229.95 L282.95,225.95 M282.95,18.0 L282.95,22.0 M335.78,229.95 L335.78,225.95 M335.78,18.0 L335.78,22.0 M71.65,203.46 L75.65,203.46 M388.6,203.46 L384.6,203.46 M71.65,176.96 L75.65,176.96 M388.6,176.96 L384.6,176.96 M71.65,150.47 L75.65,150.47 M388.6,150.47 L384.6,150.47 M71.65,123.97 L75.65,123.97 M388.6,123.97 L384.6,123.97 M71.65,97.48 L75.65,97.48 M388.6,97.48 L384.6,97.48 M71.65,70.99 L75.65,70.99 M388.6,70.99 L384.6,70.99 M71.65,44.49 L75.65,44.49 M388.6,44.49 L384.6,44.49" stroke-width="0.75"/>
</g>
<g font-size="14.4px">
<text x="63.74" y="248.40">0.6</text>
<text x="116.57" y="248.40">0.8</text>
<text x="175.40" y="248.40">1</text>
<text x="222.22" y="248.40">1.2</text>
<text x="275.04" y="248.40">1.4</text>
<text x="327.87" y="248.40">1.6</text>
<text x="380.69" y="248.40">1.8</text>
<text x="55.09" y="233.55">0</text>
<text x="43.08" y="207.06">0.2</text>
<text x="43.08" y="180.56">0.4</text>
<text x="43.08" y="154.07">0.6</text>
<text x="43.08" y="127.57">0.8</text>
<text x="55.09" y="101.08">1</text>
<text x="43.08" y="74.59">1.2</text>
<text x="43.08" y="48.09">1.4</text>
<text x="43.08" y="21.60">1.6</text>
<text x="323" y="32.50" text-anchor="end">Scalar</text>
<text x="323" y="47.00" text-anchor="end">Vector</text>
<text x="323" y="61.85" text-anchor="end">Total</text>
</g>
<path d="M176.10,247.00 H178.95 V248.80 H176.10 Z M180.35,247.00 H183.10 V248.80 H180.35 Z M222.92,247.00 H225.77 V248.80 H222.92 Z M227.17,247.00 H229.92 V248.80 H227.17 Z M275.74,247.00 H278.59 V248.80 H275.74 Z M279.99,247.00 H282.74 V248.80 H279.99 Z M328.57,247.00 H331.42 V248.80 H328.57 Z M332.82,247.00 H335.57 V248.80 H332.82 Z M381.39,247.00 H384.24 V248.80 H381.39 Z M385.64,247.00 H388.39 V248.80 H385.64 Z M55.79,99.68 H58.64 V101.48 H55.79 Z M60.04,99.68 H62.79 V101.48 H60.04 Z M43.78,73.19 H46.63 V74.99 H43.78 Z M48.03,73.19 H50.78 V74.99 H48.03 Z M43.78,46.69 H46.63 V48.49 H43.78 Z M48.03,46.69 H50.78 V48.49 H48.03 Z M43.78,20.20 H46.63 V22.00 H43.78 Z M48.03,20.20 H50.78 V22.00 H48.03 Z" fill="#ffffff" stroke="none"/>
<g>
<path d="M198.4,267.9 L200.1,266.6 M203.2,274.3 L211.1,258.1" fill="none" stroke="#1a1a1a" stroke-width="0.8" stroke-linecap="square"/><path d="M210.9,258.15 L219.8,258.15" fill="none" stroke="#1a1a1a" stroke-width="1.1"/>
<path d="M200.1,266.6 L203.3,274.3" fill="none" stroke="#1a1a1a" stroke-width="1.4" stroke-linecap="round"/>
<text class="i" fill="#2a2a2a" stroke="#fff" stroke-width="0.3" x="211.75" y="270.9" font-size="14.4px" textLength="6.9" lengthAdjust="spacingAndGlyphs">s</text>
<text x="224.6" y="270.7" font-size="17.4px" textLength="34.2" lengthAdjust="spacingAndGlyphs">GeV</text>
</g>
<g fill="none" stroke="#333333" stroke-width="0.75">
<path d="M4.1,176.2 L4.1,178.3 L21.5,178.3 L21.5,176.2"/>
<path d="M4.1,100.6 L4.1,98.8 L21.5,98.8 L21.5,100.6"/>
<path d="M4.0,148.3 L21.1,154.7"/>
</g>
<g transform="translate(17.2,205.3) rotate(-90)">
<text class="m" fill="#333333" x="-0.57" y="-0.47" font-size="17.04px" textLength="15.19" lengthAdjust="spacingAndGlyphs">10</text>
<text class="m" fill="#333333" x="15.53" y="-7.15" font-size="10.58px" textLength="5.41" lengthAdjust="spacingAndGlyphs">5</text>
<text class="i" fill="#333333" stroke="#fff" stroke-width="0.3" x="30.48" y="-0.47" font-size="16.41px" textLength="7.37" lengthAdjust="spacingAndGlyphs">d</text>
<text class="m" fill="#333333" x="39.3" y="-0.7" font-size="16.65px" textLength="9.5" lengthAdjust="spacingAndGlyphs">Γ</text>
<text class="m" fill="#333333" x="58.63" y="-0.7" font-size="16.65px" textLength="9.47" lengthAdjust="spacingAndGlyphs">Γ</text>
<text class="i" fill="#333333" stroke="#fff" stroke-width="0.3" x="69.82" y="2.53" font-size="13.09px" textLength="13.13" lengthAdjust="spacingAndGlyphs">tot</text>
<text class="i" fill="#333333" stroke="#fff" stroke-width="0.3" x="87.65" y="-0.47" font-size="16.41px" textLength="8.01" lengthAdjust="spacingAndGlyphs">d</text>
<text class="i" fill="#333333" stroke="#fff" stroke-width="0.3" x="96.4" y="-0.47" font-size="15.26px" textLength="7.26" lengthAdjust="spacingAndGlyphs">s</text>
<text x="113.88" y="-0.27" font-size="17.4px" textLength="34.05" lengthAdjust="spacingAndGlyphs">GeV</text>
<text class="m" fill="#333333" x="149.35" y="-7.32" font-size="12px" textLength="7.58" lengthAdjust="spacingAndGlyphs">−</text>
<text class="m" fill="#333333" x="158.75" y="-8.85" font-size="10.02px" textLength="4.66" lengthAdjust="spacingAndGlyphs">2</text>
</g>
</svg></body></html>
